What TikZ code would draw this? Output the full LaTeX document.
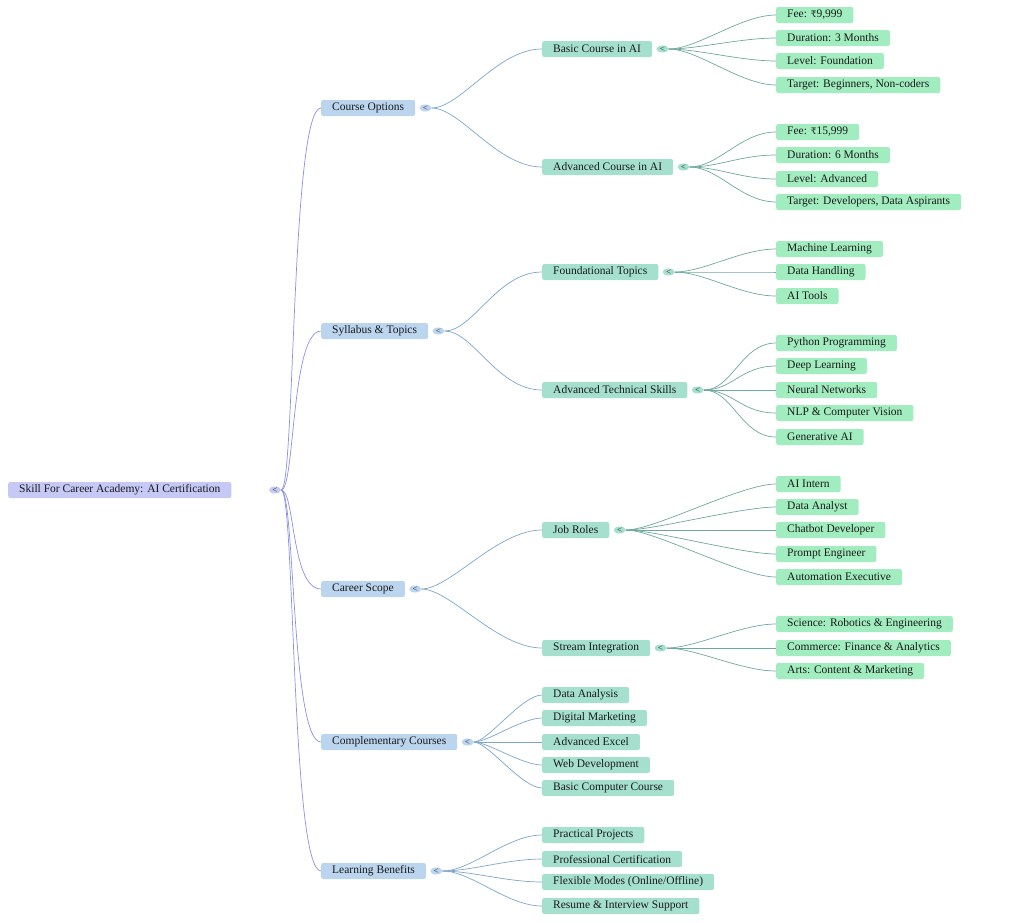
\documentclass[tikz,border=0pt]{standalone}
\usepackage{fontspec}
\setmainfont{Liberation Serif}
\newfontfamily\rupeefont{DejaVu Serif}
\newcommand{\rupee}{{\rupeefont\fontsize{9}{11}\selectfont ₹}}
\usetikzlibrary{positioning, shapes.geometric}
\definecolor{rootfill}{HTML}{C6C9F6}
\definecolor{rootline}{HTML}{8C90E2}
\definecolor{topfill}{HTML}{BBD5EF}
\definecolor{topline}{HTML}{7EA6C9}
\definecolor{subfill}{HTML}{A5E0CE}
\definecolor{subline}{HTML}{6FA89C}
\definecolor{leaffill}{HTML}{A2EDC0}
\tikzset{
  box/.style={anchor=west, rounded corners=2pt, minimum height=16pt, inner xsep=11pt, inner ysep=0pt, font=\fontsize{11.5}{13}\selectfont, text=black!90},
  rootbox/.style={box, fill=rootfill},
  topbox/.style={box, fill=topfill},
  subbox/.style={box, fill=subfill},
  leafbox/.style={box, fill=leaffill},
  knob/.style={ellipse, inner sep=0pt, minimum width=12pt, minimum height=7pt, font=\fontsize{6}{6}\selectfont},
  link/.style={line width=0.7pt},
}
\begin{document}
\begin{tikzpicture}[x=1pt, y=-1pt]
  \useasboundingbox (0,0) rectangle (1024,922);
  % root
  \node[rootbox] (root) at (8,490) {Skill For Career Academy: AI Certification};
  \node[knob, fill=rootfill] (rk) at (275,490) {$<$};
  % first level
  \node[topbox] (opt) at (321,108) {Course Options};
  \node[topbox] (syl) at (321,331) {Syllabus \& Topics};
  \node[topbox] (car) at (321,589) {Career Scope};
  \node[topbox] (comp) at (321,742) {Complementary Courses};
  \node[topbox] (learn) at (321,871) {Learning Benefits};
  \foreach \n in {opt, syl, car, comp, learn}
    \draw[rootline, link] (rk) .. controls +(20,0) and +(-30,0) .. (\n.west);
  \foreach \n in {opt, syl, car, comp, learn}
    \node[knob, fill=topfill, right=4pt of \n] (\n k) {$<$};
  % second level
  \node[subbox] (basic) at (542,49) {Basic Course in AI};
  \node[subbox] (adv) at (542,167) {Advanced Course in AI};
  \node[subbox] (found) at (542,272) {Foundational Topics};
  \node[subbox] (tech) at (542,390) {Advanced Technical Skills};
  \node[subbox] (jobs) at (542,530) {Job Roles};
  \node[subbox] (stream) at (542,648) {Stream Integration};
  \foreach \a/\b in {opt/basic, opt/adv, syl/found, syl/tech, car/jobs, car/stream}
    \draw[topline, link] (\a k) .. controls +(35,0) and +(-45,0) .. (\b.west);
  \foreach \n in {basic, adv, found, tech, jobs, stream}
    \node[knob, fill=subfill, right=4pt of \n] (\n k) {$<$};
  % leaves under first level
  \foreach \y/\t [count=\i] in {695/Data Analysis, 718/Digital Marketing, 742/Advanced Excel, 765/Web Development, 788/Basic Computer Course} {
    \node[subbox] (comp\i) at (542,\y) {\t};
    \draw[topline, link] (compk) .. controls +(20,0) and +(-20,0) .. (comp\i.west);
  }
  \foreach \y/\t [count=\i] in {835/Practical Projects, 859/Professional Certification, 882/{Flexible Modes (Online/Offline)}, 906/Resume \& Interview Support} {
    \node[subbox] (learn\i) at (542,\y) {\t};
    \draw[topline, link] (learnk) .. controls +(35,0) and +(-35,0) .. (learn\i.west);
  }
  % leaves under second level
  \foreach \p/\y/\t [count=\i] in {
      basic/15/{Fee: \rupee9,999}, basic/38/{Duration: 3 Months}, basic/61/{Level: Foundation}, basic/85/{Target: Beginners, Non-coders},
      adv/132/{Fee: \rupee15,999}, adv/155/{Duration: 6 Months}, adv/179/{Level: Advanced}, adv/202/{Target: Developers, Data Aspirants},
      found/249/{Machine Learning}, found/272/{Data Handling}, found/296/{AI Tools},
      tech/343/{Python Programming}, tech/366/{Deep Learning}, tech/390/{Neural Networks}, tech/413/{NLP \& Computer Vision}, tech/437/{Generative AI},
      jobs/484/{AI Intern}, jobs/507/{Data Analyst}, jobs/530/{Chatbot Developer}, jobs/554/{Prompt Engineer}, jobs/577/{Automation Executive},
      stream/624/{Science: Robotics \& Engineering}, stream/648/{Commerce: Finance \& Analytics}, stream/671/{Arts: Content \& Marketing}} {
    \node[leafbox] (leaf\i) at (776,\y) {\t};
    \draw[subline, link] (\p k) .. controls +(35,0) and +(-35,0) .. (leaf\i.west);
  }
\end{tikzpicture}
\end{document}
